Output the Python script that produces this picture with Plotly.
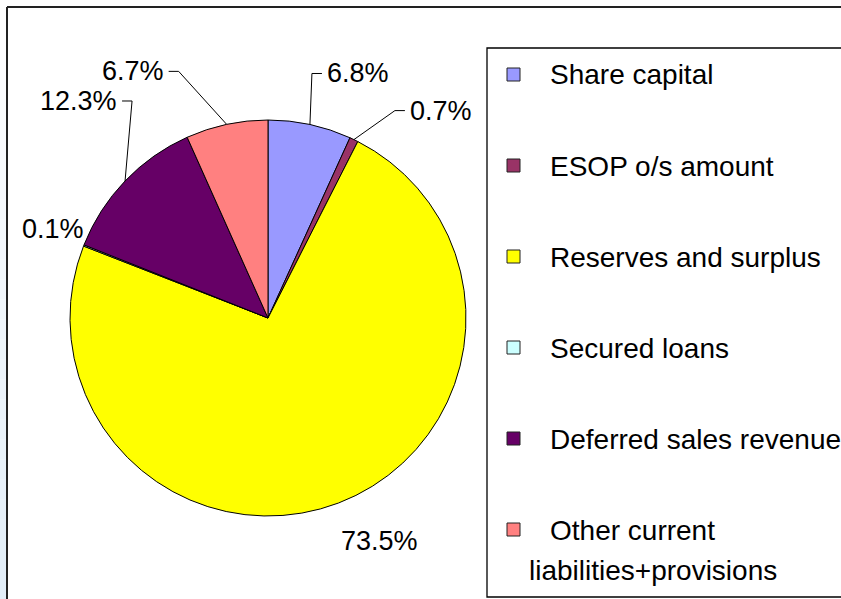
import math
import textwrap
import plotly.graph_objects as go

# ---------------- data ----------------
categories = ["Share capital", "ESOP o/s amount", "Reserves and surplus",
              "Secured loans", "Deferred sales revenue",
              "Other current liabilities+provisions"]
shares = [6.8, 0.7, 73.5, 0.1, 12.3, 6.7]
colors = ["#9999FF", "#993366", "#FFFF00", "#CCFFFF", "#660066", "#FF8080"]

# ---------------- layout geometry (pixels) ----------------
W, H = 841, 599
CX, CY, R = 268, 318, 198
FONT = "Liberation Sans, Arial, sans-serif"

def px(x):
    return x / W

def py(y):
    return 1 - y / H

# label placement relative to the slice edge point (pixel offsets)
label_style = [
    dict(dx=2, dy=-51, side="right", leader=True),
    dict(dx=41, dy=-29, side="right", leader=True),
    dict(dx=41, dy=38, side=None, leader=False),
    dict(dx=-31, dy=-16, side=None, leader=False),
    dict(dx=7, dy=-80, side="left", leader=True),
    dict(dx=-48, dy=-53, side="left", leader=True),
]

fig = go.Figure()
fig.add_trace(go.Pie(
    labels=categories, values=shares, sort=False, direction="clockwise",
    rotation=0, textinfo="none", showlegend=False,
    marker=dict(colors=colors, line=dict(color="#000000", width=1)),
    domain=dict(x=[px(CX - R), px(CX + R)], y=[py(CY + R), py(CY - R)]),
))

shapes = []
annotations = []

# left gradient strip
n_bands = 30
for i in range(n_bands):
    t = i / (n_bands - 1)
    r = int(255 - t * (255 - 226))
    g = int(255 - t * (255 - 238))
    b = int(255 - t * (255 - 248))
    shapes.append(dict(type="rect", xref="paper", yref="paper",
                       x0=0, x1=px(7), y0=py(H * (i + 1) / n_bands), y1=py(H * i / n_bands),
                       fillcolor=f"rgb({r},{g},{b})", line=dict(width=0), layer="below"))

# outer frame
shapes.append(dict(type="line", xref="paper", yref="paper", x0=px(7), x1=1.0,
                   y0=py(7), y1=py(7), line=dict(color="#222222", width=2)))
shapes.append(dict(type="line", xref="paper", yref="paper", x0=px(7), x1=px(7),
                   y0=py(7), y1=0, line=dict(color="#222222", width=2)))

# pie labels
total = sum(shares)
cum = 0.0
for val, st in zip(shares, label_style):
    mid = (cum + val / 2) / total
    cum += val
    th = 2 * math.pi * mid
    ex = CX + R * math.sin(th)
    ey = CY - R * math.cos(th)
    txt = f"{val:.1f}%"
    if st["leader"]:
        bx, by = ex + st["dx"], ey + st["dy"]
        sgn = 1 if st["side"] == "right" else -1
        hx = bx + sgn * 10
        shapes.append(dict(type="path", xref="paper", yref="paper",
                           path=f"M {px(ex)},{py(ey)} L {px(bx)},{py(by)} L {px(hx)},{py(by)}",
                           line=dict(color="#000000", width=1)))
        annotations.append(dict(x=px(hx + sgn * 3), y=py(by), xref="paper", yref="paper",
                                text=txt, showarrow=False,
                                xanchor="left" if sgn > 0 else "right", yanchor="middle",
                                font=dict(family=FONT, size=27, color="#000000")))
    else:
        annotations.append(dict(x=px(ex + st["dx"]), y=py(ey + st["dy"]), xref="paper", yref="paper",
                                text=txt, showarrow=False, xanchor="center", yanchor="middle",
                                font=dict(family=FONT, size=27, color="#000000")))

# legend box
shapes.append(dict(type="rect", xref="paper", yref="paper", x0=px(487), x1=px(845),
                   y0=py(597), y1=py(48), line=dict(color="#000000", width=1.3),
                   fillcolor="rgba(0,0,0,0)"))
for i, (cat, col) in enumerate(zip(categories, colors)):
    ry = 74 + 91 * i
    shapes.append(dict(type="rect", xref="paper", yref="paper",
                       x0=px(507), x1=px(520), y0=py(ry + 7), y1=py(ry - 6),
                       fillcolor=col, line=dict(color="#222222", width=1)))
    lines = textwrap.wrap(cat, 22)
    for j, ln in enumerate(lines):
        annotations.append(dict(x=px(548 if j == 0 else 527), y=py(ry + 1 + 40 * j),
                                xref="paper", yref="paper", text=ln, showarrow=False,
                                xanchor="left", yanchor="middle",
                                font=dict(family=FONT, size=28, color="#000000")))

fig.update_layout(
    width=W, height=H, margin=dict(l=0, r=0, t=0, b=0),
    paper_bgcolor="#FFFFFF", plot_bgcolor="#FFFFFF",
    showlegend=False, shapes=shapes, annotations=annotations,
)

fig.write_html("out.html", config={"displayModeBar": False},
               post_script="document.body.style.margin='0';document.body.style.overflow='hidden';")
